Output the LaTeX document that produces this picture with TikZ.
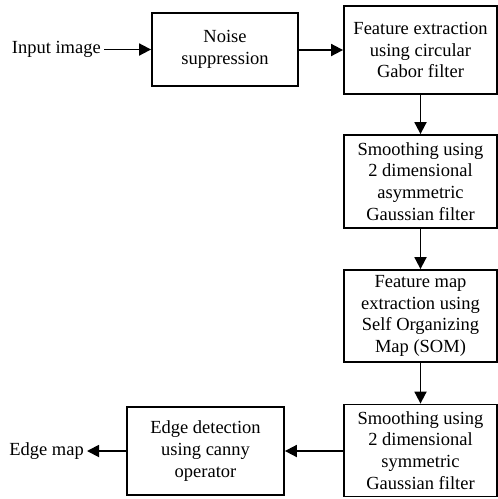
\documentclass[tikz,border=0pt]{standalone}
\usepackage{fontspec}
\setmainfont{Liberation Serif}
\usetikzlibrary{arrows.meta}
\begin{document}
\begin{tikzpicture}[x=1pt,y=-1pt,
  blk/.style={draw=black,line width=1.8pt,align=center,inner sep=2pt,
    font=\fontsize{18.5}{21.7}\selectfont},
  lbl/.style={inner sep=3pt,font=\fontsize{18.5}{21.7}\selectfont},
  arr/.style={line width=1.8pt,-{Triangle[length=12pt,width=12pt]}}]
\useasboundingbox (0,0) rectangle (498,499);
\node[blk,minimum width=146pt,minimum height=73pt] (noise) at (225,49.5) {Noise\\suppression};
\node[blk,minimum width=153pt,minimum height=88pt] (feat) at (420.5,50) {Feature extraction\\using circular\\Gabor filter};
\node[blk,minimum width=153pt,minimum height=93pt] (sm1) at (420.5,181.5) {Smoothing using\\2 dimensional\\asymmetric\\Gaussian filter};
\node[blk,minimum width=153pt,minimum height=92pt] (fmap) at (420.5,316) {Feature map\\extraction using\\Self Organizing\\Map (SOM)};
\node[blk,minimum width=153pt,minimum height=92pt] (sm2) at (420.5,450.5) {Smoothing using\\2 dimensional\\symmetric\\Gaussian filter};
\node[blk,minimum width=157pt,minimum height=88pt] (edge) at (205.5,451) {Edge detection\\using canny\\operator};
\node[lbl,anchor=east] (in) at (104,49.5) {Input image};
\node[lbl,anchor=east] (out) at (87,451) {Edge map};
\draw[arr] (in) -- (noise);
\draw[arr] (noise.east |- feat) -- (feat);
\draw[arr] (feat) -- (sm1);
\draw[arr] (sm1) -- (fmap);
\draw[arr] (fmap) -- (sm2);
\draw[arr] (sm2.west |- edge) -- (edge.east);
\draw[arr] (edge.west) -- (out.east);
\end{tikzpicture}
\end{document}
